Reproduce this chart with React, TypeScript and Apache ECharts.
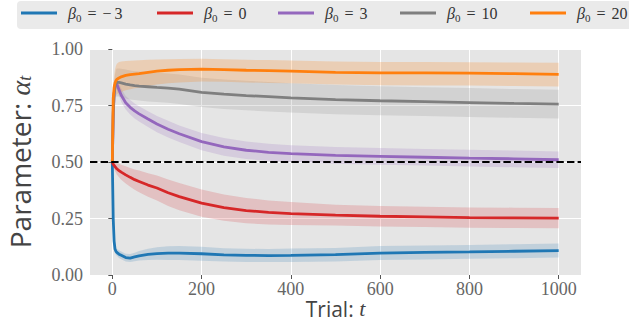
import React, { useEffect, useRef } from "react";
import * as echarts from "echarts";

// Trial index at which values were read
const trials = [0, 2, 4, 6, 8, 10, 15, 20, 30, 40, 50, 60, 80, 100, 125, 150, 200, 250, 300, 350, 400, 500, 600, 700, 800, 900, 1000];

const betaValues = ["−3", "0", "3", "10", "20"];

const blueMean = [0.5, 0.25, 0.15, 0.115, 0.105, 0.1, 0.092, 0.087, 0.077, 0.075, 0.08, 0.085, 0.091, 0.095, 0.097, 0.097, 0.094, 0.089, 0.087, 0.086, 0.087, 0.09, 0.097, 0.1, 0.102, 0.105, 0.108];
const blueLow = [0.5, 0.24, 0.135, 0.1, 0.09, 0.085, 0.075, 0.07, 0.06, 0.057, 0.061, 0.064, 0.066, 0.067, 0.066, 0.066, 0.063, 0.06, 0.058, 0.057, 0.057, 0.06, 0.066, 0.069, 0.072, 0.074, 0.077];
const blueHigh = [0.5, 0.26, 0.165, 0.13, 0.12, 0.115, 0.109, 0.104, 0.094, 0.093, 0.099, 0.106, 0.116, 0.123, 0.127, 0.128, 0.125, 0.118, 0.116, 0.115, 0.117, 0.12, 0.128, 0.131, 0.133, 0.136, 0.139];

const redMean = [0.5, 0.49, 0.485, 0.48, 0.475, 0.47, 0.462, 0.455, 0.443, 0.432, 0.422, 0.414, 0.398, 0.385, 0.364, 0.347, 0.318, 0.298, 0.285, 0.277, 0.272, 0.265, 0.26, 0.257, 0.254, 0.253, 0.252];
const redLow = [0.5, 0.48, 0.47, 0.46, 0.453, 0.445, 0.432, 0.422, 0.405, 0.39, 0.377, 0.366, 0.346, 0.33, 0.305, 0.287, 0.258, 0.24, 0.229, 0.224, 0.221, 0.219, 0.215, 0.212, 0.209, 0.208, 0.207];
const redHigh = [0.5, 0.5, 0.5, 0.5, 0.497, 0.495, 0.492, 0.488, 0.481, 0.474, 0.467, 0.462, 0.45, 0.44, 0.423, 0.407, 0.378, 0.356, 0.341, 0.33, 0.323, 0.311, 0.305, 0.302, 0.299, 0.298, 0.297];

const purpleMean = [0.5, 0.7, 0.8, 0.84, 0.848, 0.845, 0.82, 0.795, 0.762, 0.742, 0.726, 0.713, 0.69, 0.668, 0.645, 0.625, 0.59, 0.567, 0.552, 0.543, 0.537, 0.529, 0.525, 0.521, 0.517, 0.514, 0.51];
const purpleLow = [0.5, 0.69, 0.785, 0.82, 0.825, 0.82, 0.793, 0.766, 0.732, 0.71, 0.693, 0.679, 0.655, 0.632, 0.608, 0.588, 0.552, 0.528, 0.513, 0.505, 0.5, 0.492, 0.488, 0.484, 0.48, 0.477, 0.474];
const purpleHigh = [0.5, 0.71, 0.815, 0.86, 0.871, 0.87, 0.847, 0.824, 0.792, 0.774, 0.759, 0.747, 0.725, 0.704, 0.682, 0.662, 0.628, 0.606, 0.591, 0.581, 0.574, 0.566, 0.562, 0.558, 0.554, 0.551, 0.547];

const grayMean = [0.5, 0.72, 0.8, 0.835, 0.848, 0.852, 0.852, 0.85, 0.845, 0.841, 0.838, 0.836, 0.833, 0.83, 0.827, 0.822, 0.808, 0.8, 0.794, 0.789, 0.784, 0.776, 0.771, 0.767, 0.763, 0.759, 0.756];
const grayLow = [0.5, 0.69, 0.76, 0.785, 0.79, 0.79, 0.79, 0.787, 0.781, 0.777, 0.774, 0.772, 0.768, 0.765, 0.762, 0.757, 0.743, 0.735, 0.729, 0.724, 0.719, 0.711, 0.707, 0.703, 0.699, 0.696, 0.693];
const grayHigh = [0.5, 0.75, 0.84, 0.885, 0.906, 0.914, 0.914, 0.913, 0.909, 0.905, 0.902, 0.9, 0.898, 0.895, 0.892, 0.887, 0.873, 0.865, 0.859, 0.854, 0.849, 0.841, 0.835, 0.831, 0.827, 0.823, 0.82];

const orangeMean = [0.5, 0.78, 0.83, 0.85, 0.86, 0.865, 0.872, 0.877, 0.883, 0.887, 0.889, 0.891, 0.897, 0.902, 0.906, 0.909, 0.911, 0.909, 0.906, 0.904, 0.902, 0.897, 0.894, 0.894, 0.893, 0.891, 0.888];
const orangeLow = [0.5, 0.74, 0.78, 0.79, 0.795, 0.8, 0.805, 0.81, 0.817, 0.822, 0.826, 0.829, 0.836, 0.843, 0.848, 0.852, 0.856, 0.855, 0.852, 0.85, 0.848, 0.843, 0.84, 0.839, 0.838, 0.836, 0.834];
const orangeHigh = [0.5, 0.82, 0.88, 0.91, 0.925, 0.935, 0.942, 0.945, 0.947, 0.948, 0.949, 0.95, 0.952, 0.953, 0.955, 0.956, 0.957, 0.955, 0.952, 0.951, 0.949, 0.945, 0.943, 0.942, 0.941, 0.94, 0.939];

const xTicks = [0, 200, 400, 600, 800, 1000];
const yTicks = [0, 0.25, 0.5, 0.75, 1.0];
const referenceLevel = 0.5;

const colors = ["#1f77b4", "#d62728", "#9467bd", "#7f7f7f", "#ff7f0e"];
const bandColors = [
  "rgba(31,119,180,0.18)",
  "rgba(214,39,40,0.19)",
  "rgba(148,103,189,0.2)",
  "rgba(127,127,127,0.19)",
  "rgba(255,127,14,0.22)",
];

const means = [blueMean, redMean, purpleMean, grayMean, orangeMean];
const lows = [blueLow, redLow, purpleLow, grayLow, orangeLow];
const highs = [blueHigh, redHigh, purpleHigh, grayHigh, orangeHigh];

// left edge of each legend entry (layout)
const legendLefts = [21, 157, 278, 400, 530];

const SERIF = "'Liberation Serif', 'DejaVu Serif', serif";
const SANS = "'Open Sans', 'Liberation Sans', sans-serif";

export default function App() {
  const ref = useRef<HTMLDivElement>(null);
  useEffect(() => {
    if (!ref.current) return;
    const chart = echarts.init(ref.current, undefined, { renderer: "svg" });
    const names = betaValues.map((b) => `β0 = ${b}`);
    const series: any[] = [];
    means.forEach((m, i) => {
      series.push({
        name: names[i] + " band",
        type: "custom",
        silent: true,
        z: 2,
        clip: true,
        data: [[trials[0], lows[i][0]]],
        renderItem: (params: any, api: any) => {
          const pts: number[][] = [];
          for (let k = 0; k < trials.length; k++) pts.push(api.coord([trials[k], highs[i][k]]));
          for (let k = trials.length - 1; k >= 0; k--) pts.push(api.coord([trials[k], lows[i][k]]));
          return {
            type: "polygon",
            shape: { points: pts },
            style: { fill: bandColors[i], stroke: "none" },
          };
        },
      });
    });
    means.forEach((m, i) => {
      series.push({
        name: names[i],
        type: "line",
        data: trials.map((t, k) => [t, m[k]]),
        symbol: "none",
        color: colors[i],
        lineStyle: { width: 2.8, color: colors[i] },
        z: 3,
      });
    });
    series.push({
      name: "reference",
      type: "line",
      data: [],
      symbol: "none",
      z: 4,
      markLine: {
        silent: true,
        symbol: ["none", "none"],
        label: { show: false },
        lineStyle: { color: "#000", type: [7.4, 3.2], width: 2 },
        data: [{ yAxis: referenceLevel }],
      },
    });

    const base = { fontFamily: SERIF, fontSize: 16, color: "#333", lineHeight: 20 };
    const legendText = {
      ...base,
      rich: {
        b: { ...base, fontStyle: "italic", padding: [0, 0, 0, 6] },
        s: { ...base, fontSize: 11, verticalAlign: "bottom" },
        e: { ...base, padding: [0, 6, 0, 6] },
        m: { ...base, padding: [0, 3, 0, 0] },
        n: { ...base },
      },
    };
    const legends = names.map((nm, i) => ({
      data: [nm],
      left: legendLefts[i],
      top: 3,
      padding: 0,
      itemWidth: 36,
      itemHeight: 3,
      icon: "rect",
      selectedMode: false,
      formatter: (name: string) => {
        const v = name.split("= ")[1];
        const num = v.startsWith("−") ? `{m|−}{n|${v.slice(1)}}` : `{n|${v}}`;
        return `{b|β}{s|0}{e|=}${num}`;
      },
      textStyle: legendText,
    }));

    chart.setOption({
      animation: false,
      graphic: [
        {
          type: "rect",
          left: 17,
          top: 1,
          shape: { width: 630, height: 28, r: 4 },
          style: { fill: "#EAEAEA" },
          z: -1,
          silent: true,
        },
      ],
      grid: {
        left: 90,
        right: 48,
        top: 49,
        bottom: 48,
        show: true,
        backgroundColor: "#E5E5E5",
        borderWidth: 0,
        containLabel: false,
        outerBoundsMode: "none",
      },
      legend: legends,
      xAxis: {
        type: "value",
        min: -50,
        max: 1050,
        name: "{a|Trial: }{t|t}",
        nameLocation: "middle",
        nameMoveOverlap: false,
        nameGap: 23,
        nameTextStyle: {
          rich: {
            a: { fontFamily: SANS, fontSize: 21, color: "#444", lineHeight: 21 },
            t: { fontFamily: SERIF, fontStyle: "italic", fontSize: 22, color: "#444", lineHeight: 21 },
          },
        },
        axisLine: { show: false },
        axisTick: { show: true, length: 4, lineStyle: { color: "#555" }, customValues: xTicks },
        axisLabel: {
          customValues: xTicks,
          margin: 5,
          fontFamily: SERIF,
          fontSize: 18,
          color: "#666",
          formatter: (v: number) => String(v),
        },
        splitLine: { show: true, lineStyle: { color: "#fff", width: 1 } },
      },
      yAxis: {
        type: "value",
        min: 0,
        max: 1,
        interval: 0.25,
        name: "{a|Parameter: }{al|α}{s|t}",
        nameLocation: "middle",
        nameMoveOverlap: false,
        nameGap: 56,
        nameTextStyle: {
          rich: {
            a: { fontFamily: SANS, fontSize: 28, color: "#444", lineHeight: 28 },
            al: { fontFamily: SERIF, fontStyle: "italic", fontSize: 28, color: "#444", lineHeight: 28 },
            s: { fontFamily: SERIF, fontStyle: "italic", fontSize: 18, color: "#444", lineHeight: 28, verticalAlign: "bottom" },
          },
        },
        axisLine: { show: false },
        axisTick: { show: true, length: 4, lineStyle: { color: "#555" } },
        axisLabel: {
          margin: 7,
          fontFamily: SERIF,
          fontSize: 18,
          color: "#666",
          formatter: (v: number) => v.toFixed(2),
          customValues: yTicks,
        },
        splitLine: { show: true, lineStyle: { color: "#fff", width: 1 } },
      },
      series,
    });
    return () => chart.dispose();
  }, []);
  return <div ref={ref} style={{ width: 629, height: 323, position: "absolute", left: 0, top: 0 }} />;
}
